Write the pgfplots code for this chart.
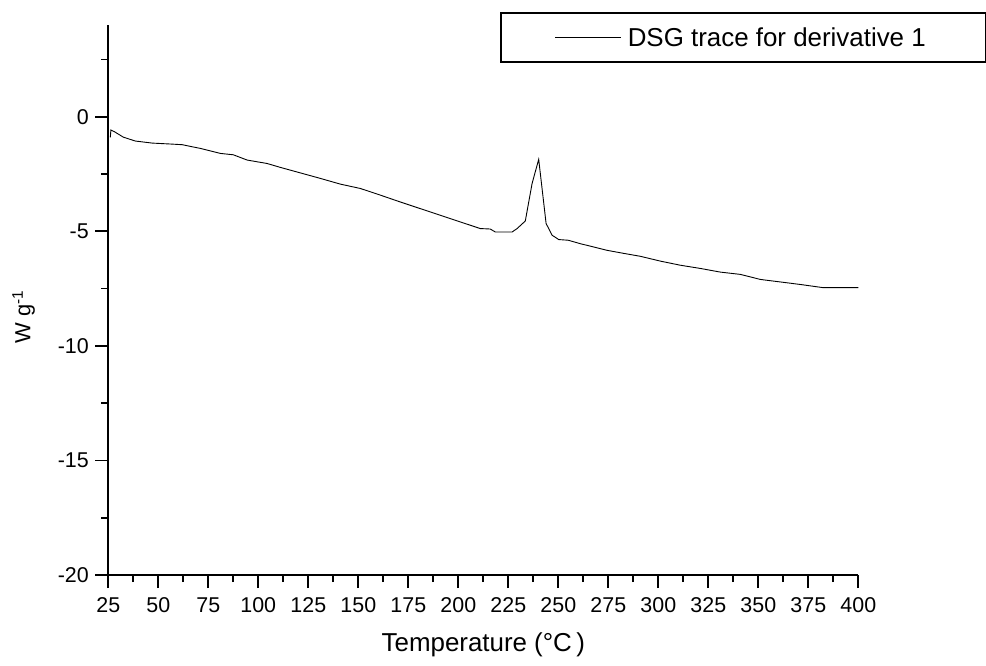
\documentclass[border=0pt]{standalone}
\usepackage{pgfplots}
\pgfplotsset{compat=1.18}
\usepackage{fontspec}
\setmainfont{Liberation Sans}

\begin{document}
\begin{tikzpicture}
\path[use as bounding box] (-108.3bp,-91bp) rectangle (877.7bp,575bp);
\begin{axis}[
  at={(0,0)}, anchor=south west,
  scale only axis, width=750bp, height=549.9bp,
  xmin=25, xmax=400, ymin=-20, ymax=4,
  axis x line*=bottom, axis y line*=left,
  axis line style={line width=1.7bp},
  tick align=outside,
  major tick length=13bp, minor tick length=7bp,
  every tick/.style={black, line width=1.7bp},
  xtick={25,50,...,400}, minor xtick={37.5,62.5,...,387.5},
  ytick={-20,-15,...,0}, minor ytick={-17.5,-12.5,...,2.5},
  /pgf/number format/assume math mode=true,
  tick label style={font=\fontsize{21.5}{25}\selectfont},
  xticklabel style={yshift=-6bp},
  yticklabel style={xshift=-3bp},
  xlabel={Temperature (°C\,)},
  ylabel={W g\textsuperscript{-1}},
  xlabel style={font=\fontsize{26}{30}\selectfont, at={(axis description cs:0.5,-0.127)}, anchor=center},
  ylabel style={font=\fontsize{22}{26}\selectfont, at={(axis description cs:-0.113,0.47)}, anchor=center},
  legend image code/.code={\draw[#1] (0bp,0bp) -- (66bp,0bp);},
  legend style={at={(0.5223,1.0235)}, anchor=north west,
    draw=black, line width=1.6bp, minimum width=485bp, minimum height=49bp,
    nodes={minimum width=0pt, minimum height=0pt, inner xsep=6bp},
    font=\fontsize{26}{30}\selectfont},
]
\addplot[black, line width=0.9bp] coordinates {
(26,-0.9) (26.3,-0.58) (28,-0.65) (32.5,-0.89) (38.5,-1.06) (47,-1.15)
(56,-1.19) (62,-1.22) (67.5,-1.32) (71,-1.38) (81,-1.60) (87.5,-1.66)
(94.4,-1.89) (104.4,-2.04) (111,-2.21) (121,-2.45) (131,-2.69) (141,-2.94)
(151,-3.13) (161,-3.42) (171,-3.72) (181,-4.01) (191,-4.30) (201,-4.59)
(211,-4.88) (216,-4.90) (218.5,-5.03) (226.9,-5.03) (229.4,-4.88)
(233.5,-4.55) (236.9,-2.91) (240.2,-1.86) (243.9,-4.66) (246.9,-5.17)
(250.2,-5.36) (255,-5.39) (261,-5.54) (267.5,-5.68) (274.4,-5.83)
(282.5,-5.96) (291,-6.09) (301,-6.30) (311,-6.48) (321,-6.62) (331,-6.78)
(341,-6.88) (351,-7.10) (361,-7.21) (371,-7.32) (382.5,-7.46) (400,-7.46)
};
\addlegendentry{DSG trace for derivative 1}
\end{axis}
\end{tikzpicture}
\end{document}
